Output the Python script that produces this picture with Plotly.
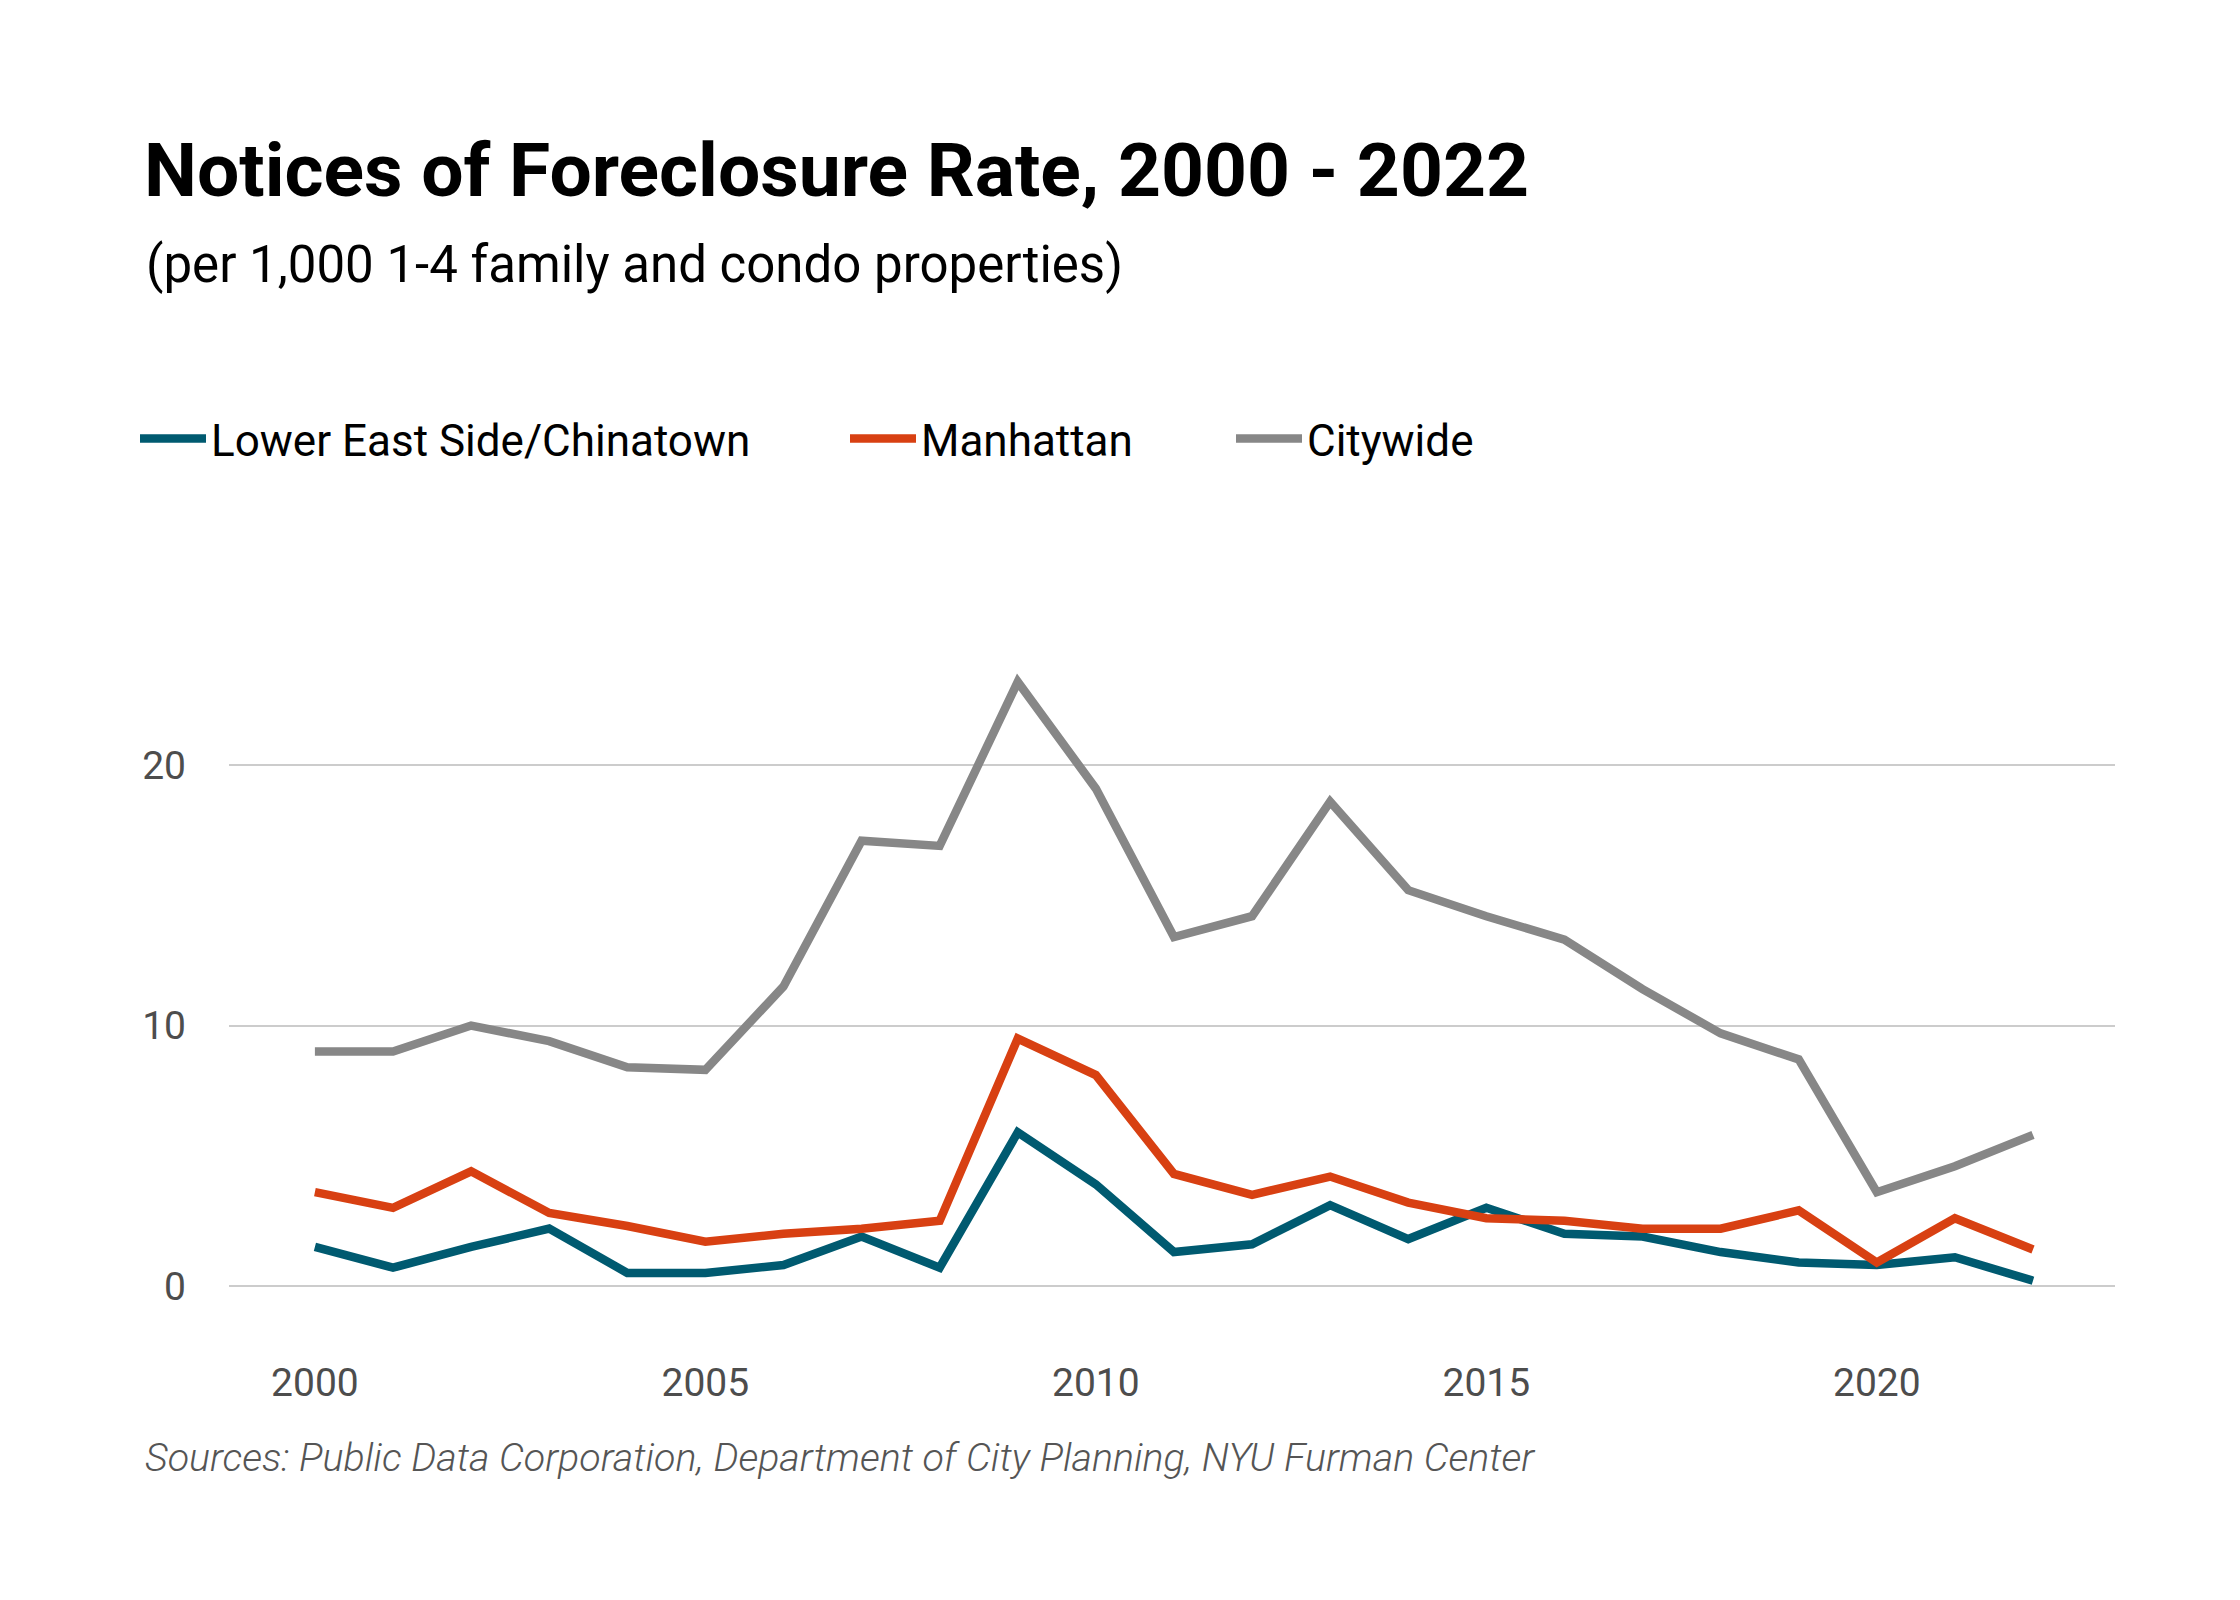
import plotly.graph_objects as go

# Notices of foreclosure per 1,000 1-4 family and condo properties
YEARS = list(range(2000, 2023))

LES_CHINATOWN = [1.5, 0.7, 1.5, 2.2, 0.5, 0.5, 0.8, 1.9, 0.7, 5.9, 3.9, 1.3,
                 1.6, 3.1, 1.8, 3.0, 2.0, 1.9, 1.3, 0.9, 0.8, 1.1, 0.2]
MANHATTAN = [3.6, 3.0, 4.4, 2.8, 2.3, 1.7, 2.0, 2.2, 2.5, 9.5, 8.1, 4.3,
             3.5, 4.2, 3.2, 2.6, 2.5, 2.2, 2.2, 2.9, 0.9, 2.6, 1.4]
CITYWIDE = [9.0, 9.0, 10.0, 9.4, 8.4, 8.3, 11.5, 17.1, 16.9, 23.2, 19.1, 13.4,
            14.2, 18.6, 15.2, 14.2, 13.3, 11.4, 9.7, 8.7, 3.6, 4.6, 5.8]

SERIES = [
    ("Lower East Side/Chinatown", LES_CHINATOWN, "#005a70", "legend"),
    ("Manhattan", MANHATTAN, "#d84012", "legend2"),
    ("Citywide", CITYWIDE, "#878787", "legend3"),
]

X_TICKS = [2000, 2005, 2010, 2015, 2020]
Y_TICKS = [0, 10, 20]

W, H = 2240, 1600
FONT = "Roboto"

# plot area in pixels
M_L, M_R, M_T, M_B = 221, 133, 627, 270
PW = W - M_L - M_R
PH = H - M_T - M_B

fig = go.Figure()

for name, values, color, leg in SERIES:
    fig.add_trace(
        go.Scatter(
            x=YEARS,
            y=values,
            name=name,
            mode="lines",
            line=dict(color=color, width=8.5),
            legend=leg,
            hoverinfo="x+y+name",
        )
    )

# one legend per series so the gaps match the original
legend_style = dict(
    orientation="h",
    xref="container",
    yref="container",
    y=1 - 431 / H,
    yanchor="middle",
    xanchor="left",
    font=dict(family=FONT, size=44, color="#000000"),
    itemwidth=66,
    bgcolor="rgba(0,0,0,0)",
)
legend_x = {"legend": 127 / W, "legend2": 837 / W, "legend3": 1223 / W}

fig.update_layout(
    width=W,
    height=H,
    paper_bgcolor="white",
    plot_bgcolor="white",
    margin=dict(l=M_L, r=M_R, t=M_T, b=M_B),
    title=dict(
        text="<b>Notices of Foreclosure Rate, 2000 - 2022</b>",
        font=dict(family=FONT, size=75, color="#000000"),
        xref="container",
        yref="container",
        x=136 / W,
        xanchor="left",
        y=1 - 162 / H,
        yanchor="middle",
    ),
    legend=dict(legend_style, x=legend_x["legend"]),
    legend2=dict(legend_style, x=legend_x["legend2"]),
    legend3=dict(legend_style, x=legend_x["legend3"]),
    showlegend=True,
)

fig.update_xaxes(
    range=[1998.9, 2023.05],
    tickvals=X_TICKS,
    ticktext=[str(v) for v in X_TICKS],
    showgrid=False,
    zeroline=False,
    showline=False,
    ticks="",
    ticklabelstandoff=18,
    tickfont=dict(family=FONT, size=39, color="#4d4d4d"),
)

fig.update_yaxes(
    range=[-2, 25],
    tickvals=Y_TICKS,
    ticktext=[str(v) for v in Y_TICKS],
    showgrid=True,
    gridcolor="#cccccc",
    gridwidth=2,
    zeroline=False,
    showline=False,
    ticks="",
    ticklabelstandoff=42,
    tickfont=dict(family=FONT, size=39, color="#4d4d4d"),
)

fig.add_annotation(
    text="(per 1,000 1-4 family and condo properties)",
    xref="paper",
    yref="paper",
    x=(136 - M_L) / PW,
    y=1 + (M_T - 256) / PH,
    xanchor="left",
    yanchor="middle",
    showarrow=False,
    font=dict(family=FONT, size=51, color="#000000"),
)

fig.add_annotation(
    text="<i>Sources: Public Data Corporation, Department of City Planning, NYU Furman Center</i>",
    xref="paper",
    yref="paper",
    x=(135 - M_L) / PW,
    y=-(1449 - (H - M_B)) / PH,
    xanchor="left",
    yanchor="middle",
    showarrow=False,
    font=dict(family=FONT, size=39.4, color="#555555", weight=300),
)

fig.write_html("out.html")
